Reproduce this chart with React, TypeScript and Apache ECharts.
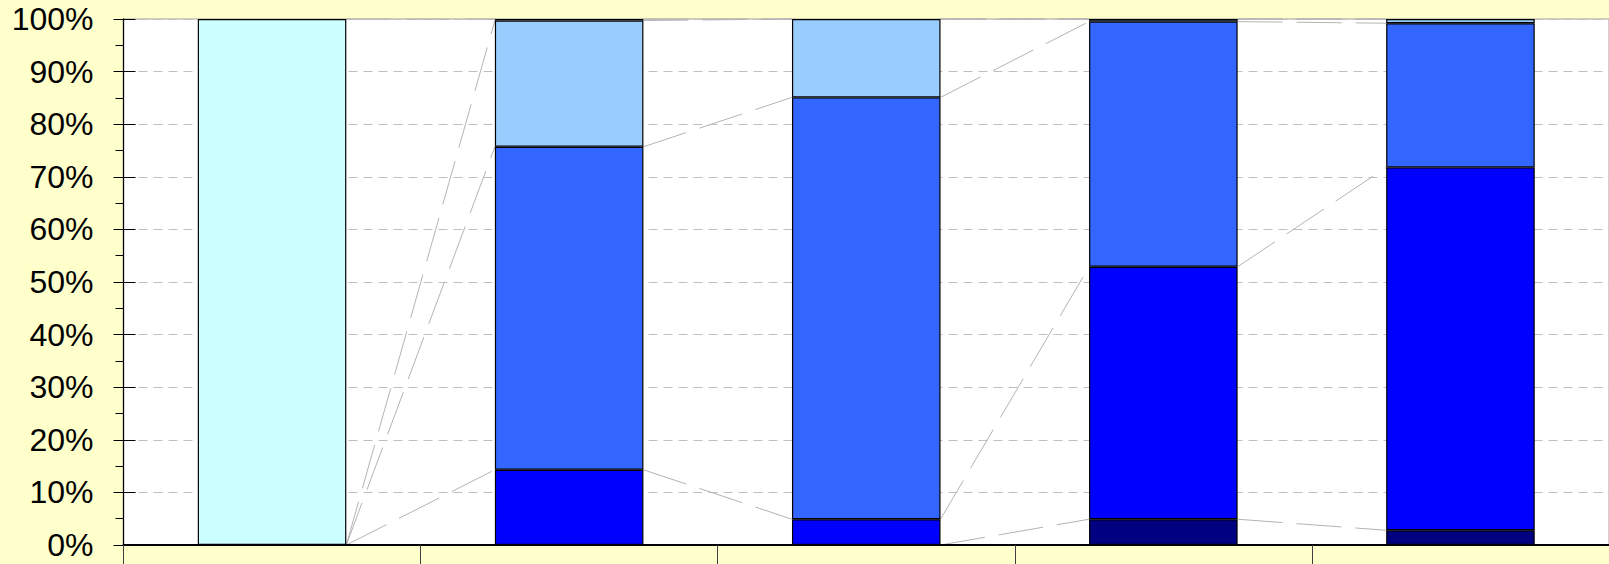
import React, { useEffect, useRef } from "react";
import * as echarts from "echarts";

const categories = ["1", "2", "3", "4", "5"];
const navySeries = [0, 0, 0, 4.9, 2.8];
const blueSeries = [0, 14.3, 4.9, 48.0, 69.0];
const mediumSeries = [0, 61.4, 80.2, 46.6, 27.4];
const lightSeries = [0, 24.0, 14.9, 0.5, 0.8];
const cyanSeries = [100, 0.3, 0, 0, 0];
const yTicks = [0, 10, 20, 30, 40, 50, 60, 70, 80, 90, 100];

const seriesDefs = [
  { name: "S1", data: navySeries, color: "#000080" },
  { name: "S2", data: blueSeries, color: "#0000ff" },
  { name: "S3", data: mediumSeries, color: "#3366ff" },
  { name: "S4", data: lightSeries, color: "#99ccff" },
  { name: "S5", data: cyanSeries, color: "#ccffff" },
];

export default function App() {
  const ref = useRef<HTMLDivElement>(null);
  useEffect(() => {
    if (!ref.current) return;
    const chart = echarts.init(ref.current, null, { renderer: "svg" });

    const cum: number[][] = [];
    const running = categories.map(() => 0);
    seriesDefs.forEach((s) => {
      const tops = s.data.map((v, i) => {
        running[i] += v;
        return running[i];
      });
      cum.push(tops);
    });
    const lineData: number[][] = [];
    cum.forEach((tops) => {
      for (let i = 0; i < tops.length - 1; i++) {
        lineData.push([i, tops[i], tops[i + 1]]);
      }
    });

    const barSeries = seriesDefs.map((s) => ({
      name: s.name,
      type: "bar",
      stack: "total",
      barWidth: "50%",
      data: s.data.map((v) => (v === 0 ? "-" : v)),
      itemStyle: { color: s.color, borderColor: "#000", borderWidth: 1.2 },
      z: 3,
    }));

    chart.setOption({
      animation: false,
      backgroundColor: "#ffffcc",
      grid: {
        left: 123.5,
        right: 0,
        top: 19,
        bottom: 19,
        show: true,
        backgroundColor: "#ffffff",
        borderColor: "#a0a0a0",
        borderWidth: 1,
      },
      xAxis: {
        type: "category",
        data: categories,
        boundaryGap: true,
        z: 6,
        axisLine: { show: true, lineStyle: { color: "#000", width: 2 } },
        axisTick: { show: true, length: 22, alignWithLabel: false, lineStyle: { color: "#404040", width: 1 } },
        axisLabel: { show: false },
        splitLine: { show: false },
      },
      yAxis: [
        {
          type: "value",
          min: yTicks[0],
          max: yTicks[yTicks.length - 1],
          interval: 10,
          axisLine: { show: true, lineStyle: { color: "#000", width: 1.3 } },
          axisTick: { show: true, length: 10, lineStyle: { color: "#000" } },
          minorTick: { show: true, splitNumber: 2, length: 8, lineStyle: { color: "#000" } },
          axisLabel: {
            margin: 30,
            fontSize: 32,
            color: "#000",
            fontFamily: "Liberation Sans, Arial, sans-serif",
            formatter: "{value}%",
          },
          splitLine: { show: true, lineStyle: { color: "#c0c0c0", width: 1, type: [9, 6] } },
        },
        {
          type: "value",
          min: yTicks[0],
          max: yTicks[yTicks.length - 1],
          interval: 10,
          position: "left",
          axisLine: { show: false },
          axisTick: { show: true, inside: true, length: 12, lineStyle: { color: "#000" } },
          axisLabel: { show: false },
          splitLine: { show: false },
        },
      ],
      series: [
        {
          type: "custom",
          name: "seriesLines",
          data: lineData,
          encode: { x: 0, y: 1 },
          z: 2,
          silent: true,
          renderItem: (params: any, api: any) => {
            const i = api.value(0);
            const p1 = api.coord([i, api.value(1)]);
            const p2 = api.coord([i + 1, api.value(2)]);
            const bw = api.size([1, 0])[0];
            const half = bw * 0.25;
            return {
              type: "line",
              shape: { x1: p1[0] + half, y1: p1[1], x2: p2[0] - half, y2: p2[1] },
              style: { stroke: "#b4b4b4", lineWidth: 1, lineDash: [45, 14] },
            };
          },
        },
        ...barSeries,
      ],
    });
    return () => chart.dispose();
  }, []);
  return (
    <div
      ref={ref}
      style={{ position: "absolute", left: 0, top: 0, width: 1609, height: 564 }}
    />
  );
}
